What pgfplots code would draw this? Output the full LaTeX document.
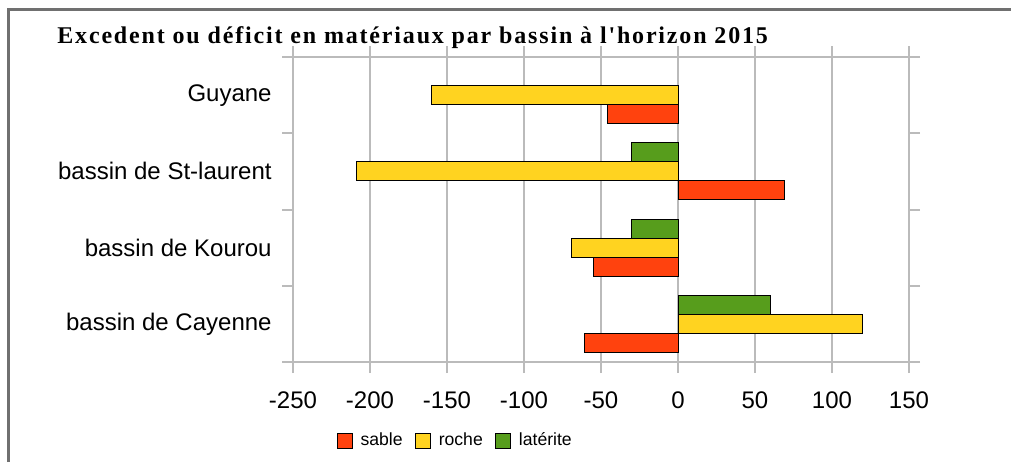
\documentclass[border=0pt]{standalone}
\usepackage{fontspec}
\setmainfont{Liberation Serif}
\setsansfont{Liberation Sans}
\newfontfamily\titlefont{Liberation Serif}[Ligatures=TeXOff, LetterSpace=7.6]
\usepackage{pgfplots}
\pgfplotsset{compat=1.18}
\definecolor{sable}{HTML}{FF420E}
\definecolor{roche}{HTML}{FFD320}
\definecolor{laterite}{HTML}{579D1C}
\definecolor{axgray}{HTML}{BBBBBB}
\definecolor{framegray}{HTML}{707070}
\begin{document}
\begin{tikzpicture}[x=1pt,y=1pt]
\useasboundingbox (0,0) rectangle (505.5,231);
\draw[framegray, line width=1.5pt] (4,0) -- (4,226.5) -- (505.5,226.5);
\node[anchor=base west, font=\titlefont\bfseries\fontsize{12}{14}\selectfont, inner sep=0pt] at (28.5,209.3) {Excedent ou déficit en matériaux par bassin à l'horizon 2015};
\begin{axis}[
  at={(146.5pt,50pt)}, anchor=south west, scale only axis,
  width=308pt, height=152.5pt,
  xbar, bar width=0.25,
  xmin=-250, xmax=150, ymin=-0.5, ymax=3.5,
  xtick={-250,-200,-150,-100,-50,0,50,100,150},
  ytick={-0.5,0.5,1.5,2.5,3.5},
  yticklabels={},
  extra y ticks={0,1,2,3},
  extra y tick labels={bassin de Cayenne,bassin de Kourou,bassin de St-laurent,Guyane},
  extra y tick style={major tick length=0pt, yticklabel style={anchor=east, inner sep=0pt, xshift=-10.5pt}},
  tick align=outside, major tick length=5.5pt,
  tick style={axgray, line width=1pt},
  axis line style={axgray, line width=1pt},
  xmajorgrids=true, ymajorgrids=false,
  major grid style={axgray, line width=1pt},
  /pgf/number format/assume math mode=true,
  ticklabel style={font=\sffamily\fontsize{12}{14}\selectfont},
  xticklabel style={anchor=north, inner sep=0pt, yshift=-9pt},
  legend columns=3,
  legend style={at={(0.07,-0.259)}, anchor=west, draw=none, fill=none, inner sep=0pt,
    font=\sffamily\fontsize{8.8}{10}\selectfont,
    /tikz/every even column/.append style={column sep=4pt}},
  legend image code/.code={\draw[#1, draw=black, line width=0.6pt] (0pt,-3.75pt) rectangle (7.5pt,3.75pt); \path (9.5pt,0pt);},
  every axis plot/.append style={draw=black, line width=0.5pt},
]
\addplot[fill=sable, bar shift=-0.25] coordinates {(-61,0) (-55,1) (69,2) (-46,3)};
\addlegendentry{sable}
\addplot[fill=roche, bar shift=0] coordinates {(120,0) (-69,1) (-209,2) (-160,3)};
\addlegendentry{roche}
\addplot[fill=laterite, bar shift=0.25] coordinates {(60,0) (-30,1) (-30,2)};
\addlegendentry{latérite}
\end{axis}
\end{tikzpicture}
\end{document}
